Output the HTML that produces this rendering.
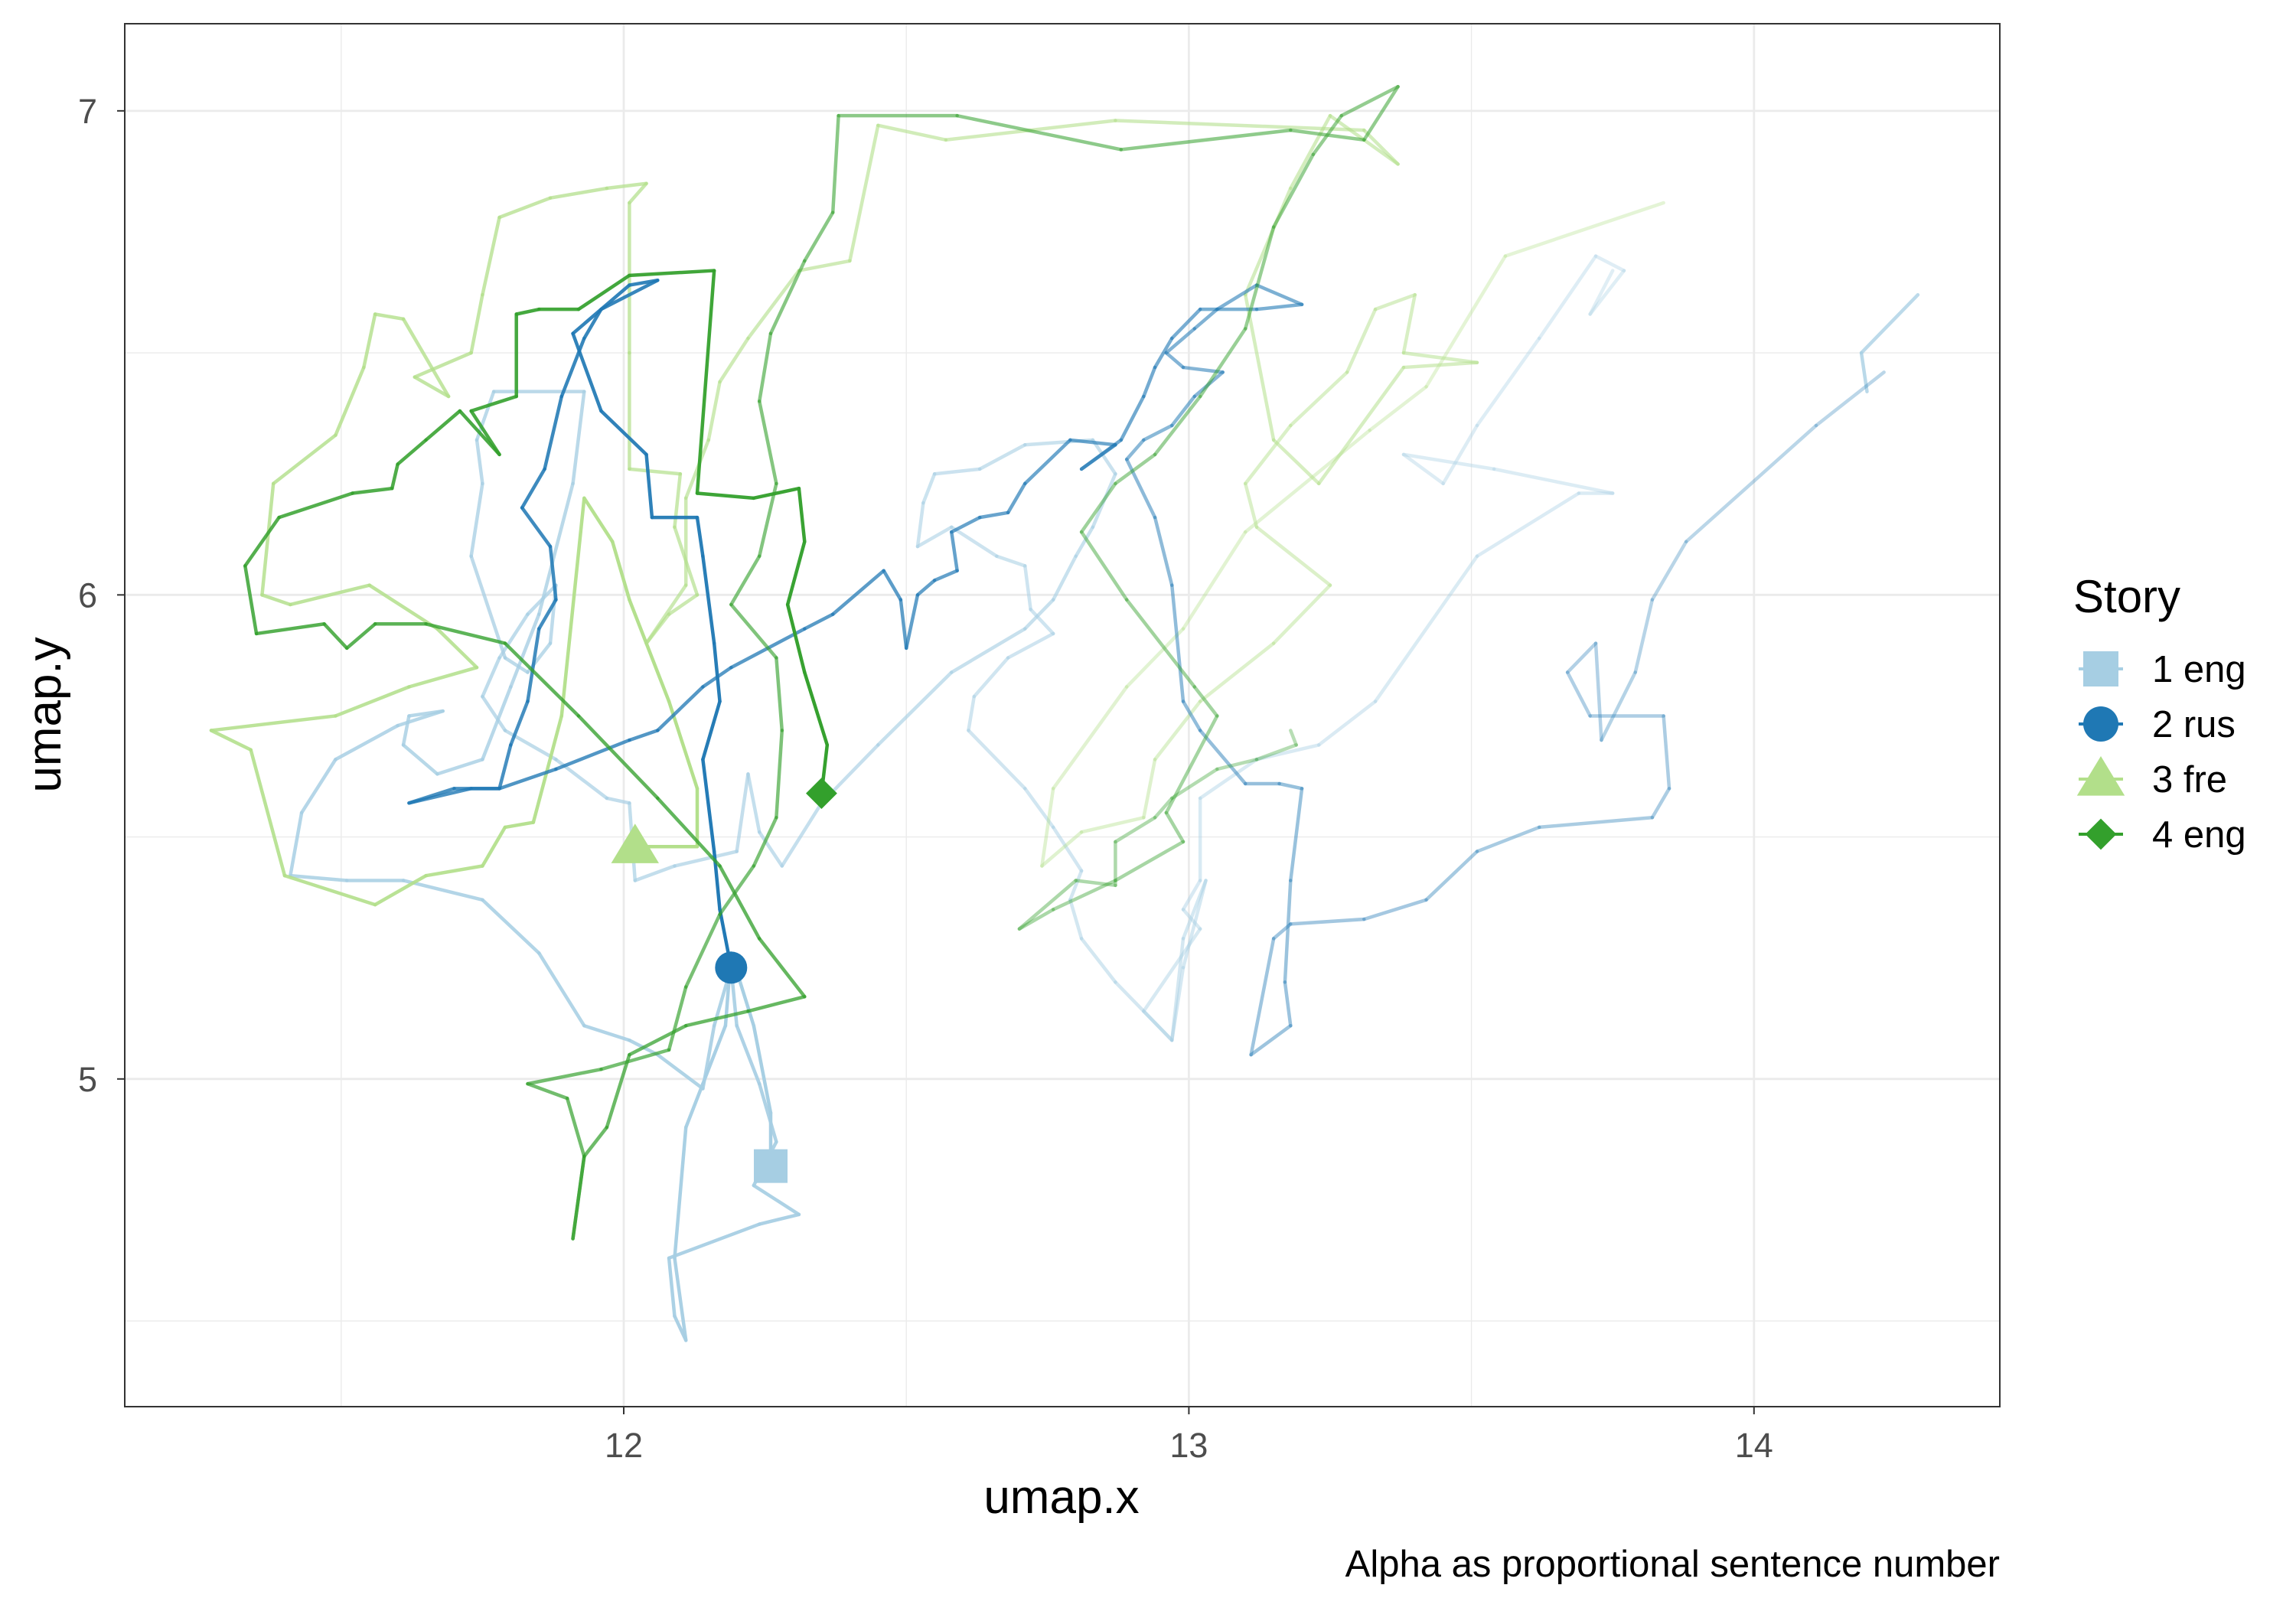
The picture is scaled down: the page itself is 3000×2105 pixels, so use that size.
<!DOCTYPE html>
<html><head><meta charset="utf-8"><style>
html,body{margin:0;padding:0;background:#fff;}
svg text{font-family:"Liberation Sans",Arial,sans-serif;}
</style></head><body>
<svg id="chart" width="3000" height="2100" viewBox="0 0 3000 2100" xmlns="http://www.w3.org/2000/svg">
<rect x="0" y="0" width="3000" height="2100" fill="#fff"/>
<g id="grid"></g>
<g id="series"></g>
<rect x="163" y="31" width="2450" height="1807" fill="none" stroke="#333" stroke-width="2"/>
<g id="axes"></g>
<text x="1387" y="1977" font-size="62" text-anchor="middle" fill="#000">umap.x</text>
<text transform="translate(79,934) rotate(-90)" font-size="62" text-anchor="middle" fill="#000">umap.y</text>
<text x="2613" y="2060" font-size="49" text-anchor="end" fill="#000">Alpha as proportional sentence number</text>
<g id="legend"></g>
</svg>
<script>
const storyNames = ["1 eng","2 rus","3 fre","4 eng"];
const storyColors = ["#a6cee3","#1f78b4","#b2df8a","#33a02c"];
const xTicks = [12,13,14];
const yTicks = [5,6,7];
const xMinor = [11.5,12.5,13.5];
const yMinor = [4.5,5.5,6.5];

const s1x = [13.75,13.71,13.77,13.72,13.62,13.51,13.45,13.38,13.54,13.75,13.69,13.51,13.33,13.23,13.12,13.02,13.02,12.99,13.02,12.92,12.97,12.99,13.03,12.99,12.97,12.87,12.81,12.79,12.81,12.76,12.71,12.61,12.62,12.68,12.76,12.72,12.71,12.66,12.58,12.52,12.53,12.55,12.63,12.71,12.83,12.87,12.83,12.80,12.76,12.71,12.58,12.45,12.35,12.28,12.24,12.22,12.20,12.09,12.02,12.01,11.97,11.88,11.79,11.75,11.78,11.83,11.88,11.87,11.83,11.79,11.73,11.75,11.74,11.77,11.93,11.91,11.85,11.80,11.75,11.67,11.61,11.62,11.68,11.60,11.49,11.43,11.41,11.51,11.61,11.75,11.85,11.93,12.01,12.06,12.14,12.16,12.19,12.20,12.24,12.27,12.23,12.31,12.24,12.08,12.09,12.11,12.09,12.11,12.14,12.18,12.19,12.23,12.26,12.26];
const s1y = [6.67,6.58,6.67,6.70,6.53,6.35,6.23,6.29,6.26,6.21,6.21,6.08,5.78,5.69,5.66,5.58,5.41,5.35,5.31,5.14,5.08,5.23,5.41,5.29,5.08,5.20,5.29,5.37,5.43,5.52,5.60,5.72,5.79,5.87,5.92,5.97,6.06,6.08,6.14,6.10,6.19,6.25,6.26,6.31,6.32,6.25,6.14,6.08,5.99,5.93,5.84,5.69,5.57,5.44,5.51,5.63,5.47,5.44,5.41,5.57,5.58,5.66,5.72,5.79,5.87,5.96,6.02,5.90,5.84,5.87,6.08,6.23,6.32,6.42,6.42,6.23,5.96,5.81,5.66,5.63,5.69,5.75,5.76,5.73,5.66,5.55,5.42,5.41,5.41,5.37,5.26,5.11,5.08,5.05,4.98,5.11,5.23,5.11,4.99,4.87,4.78,4.72,4.70,4.63,4.51,4.46,4.63,4.90,4.99,5.11,5.26,5.11,4.93,4.82];
const s1xb = [14.29,14.19,14.20];
const s1yb = [6.62,6.50,6.42];

const s2x = [14.23,14.11,13.88,13.82,13.79,13.73,13.72,13.67,13.71,13.84,13.85,13.82,13.62,13.51,13.42,13.31,13.18,13.15,13.11,13.18,13.17,13.18,13.20,13.16,13.10,13.02,12.99,12.97,12.94,12.89,12.92,12.97,13.01,13.06,12.99,12.96,13.01,13.05,13.12,13.20,13.12,13.02,12.97,12.94,12.92,12.88,12.81,12.87,12.79,12.71,12.68,12.63,12.58,12.59,12.55,12.52,12.50,12.49,12.46,12.37,12.32,12.19,12.14,12.06,12.01,11.88,11.78,11.73,11.62,11.70,11.78,11.80,11.83,11.85,11.88,11.87,11.82,11.86,11.89,11.93,11.96,12.06,12.01,11.91,11.96,12.04,12.05,12.13,12.14,12.16,12.17,12.14,12.16,12.17,12.19];
const s2y = [6.46,6.35,6.11,5.99,5.84,5.70,5.90,5.84,5.75,5.75,5.60,5.54,5.52,5.47,5.37,5.33,5.32,5.29,5.05,5.11,5.20,5.41,5.60,5.61,5.61,5.72,5.78,6.02,6.16,6.28,6.32,6.35,6.41,6.46,6.47,6.50,6.55,6.59,6.64,6.60,6.59,6.59,6.53,6.47,6.41,6.32,6.26,6.31,6.32,6.23,6.17,6.16,6.13,6.05,6.03,6.00,5.89,5.99,6.05,5.96,5.93,5.85,5.81,5.72,5.70,5.64,5.60,5.60,5.57,5.60,5.60,5.69,5.78,5.93,5.99,6.10,6.18,6.26,6.41,6.53,6.59,6.65,6.64,6.54,6.38,6.29,6.16,6.16,6.08,5.90,5.78,5.66,5.47,5.35,5.23];

const s3x = [13.84,13.56,13.42,13.32,13.10,12.99,12.89,12.76,12.74,12.81,12.92,12.94,13.02,13.15,13.25,13.12,13.10,13.18,13.28,13.33,13.40,13.38,13.51,13.38,13.23,13.15,13.10,13.18,13.25,13.37,13.31,12.87,12.57,12.45,12.40,12.31,12.22,12.17,12.15,12.11,12.11,12.04,12.08,12.13,12.09,12.10,12.01,12.01,12.01,12.04,11.97,11.87,11.78,11.75,11.73,11.63,11.69,11.61,11.56,11.54,11.49,11.38,11.36,11.41,11.55,11.67,11.74,11.62,11.49,11.27,11.34,11.40,11.56,11.65,11.75,11.79,11.84,11.89,11.93,11.98,12.01,12.08,12.13,12.13,12.02];
const s3y = [6.81,6.70,6.43,6.34,6.13,5.93,5.81,5.60,5.44,5.51,5.54,5.66,5.78,5.90,6.02,6.14,6.23,6.35,6.46,6.59,6.62,6.50,6.48,6.47,6.23,6.32,6.62,6.84,6.99,6.89,6.96,6.98,6.94,6.97,6.69,6.67,6.53,6.44,6.32,6.20,6.02,5.90,5.96,6.00,6.14,6.25,6.26,6.50,6.81,6.85,6.84,6.82,6.78,6.62,6.50,6.45,6.41,6.57,6.58,6.47,6.33,6.23,6.00,5.98,6.02,5.93,5.85,5.81,5.75,5.72,5.68,5.42,5.36,5.42,5.44,5.52,5.53,5.75,6.20,6.11,5.99,5.78,5.60,5.48,5.48];

const s4x = [13.18,13.19,13.12,13.05,12.97,12.94,12.87,12.87,12.80,12.70,12.76,12.87,12.99,12.96,13.05,13.01,12.89,12.81,12.87,12.94,13.02,13.10,13.15,13.22,13.27,13.37,13.31,13.18,12.88,12.59,12.38,12.37,12.32,12.26,12.24,12.27,12.24,12.19,12.27,12.28,12.27,12.23,12.17,12.11,12.08,11.96,11.83,11.90,11.93,11.91,11.93,11.97,12.01,12.11,12.22,12.32,12.24,12.17,12.06,11.92,11.79,11.65,11.56,11.51,11.47,11.35,11.33,11.39,11.52,11.59,11.60,11.65,11.71,11.78,11.73,11.81,11.81,11.85,11.92,12.01,12.16,12.13,12.23,12.31,12.32,12.29,12.32,12.36,12.35];
const s4y = [5.72,5.69,5.66,5.64,5.58,5.54,5.49,5.40,5.41,5.31,5.35,5.41,5.49,5.55,5.75,5.81,5.99,6.13,6.23,6.29,6.41,6.55,6.76,6.91,6.99,7.05,6.94,6.96,6.92,6.99,6.99,6.79,6.69,6.54,6.40,6.23,6.08,5.98,5.87,5.72,5.54,5.44,5.34,5.19,5.06,5.02,4.99,4.96,4.84,4.67,4.84,4.90,5.05,5.11,5.14,5.17,5.29,5.44,5.58,5.75,5.90,5.94,5.94,5.89,5.94,5.92,6.06,6.16,6.21,6.22,6.27,6.32,6.38,6.29,6.38,6.41,6.58,6.59,6.59,6.66,6.67,6.21,6.20,6.22,6.11,5.98,5.84,5.69,5.59];

const X0=163, X1=2613, Y0=31, Y1=1838;
const xMin=11.117, xMax=14.435, yMin=4.323, yMax=7.18;
function sx(v){return X0+(v-xMin)/(xMax-xMin)*(X1-X0);}
function sy(v){return Y1-(v-yMin)/(yMax-yMin)*(Y1-Y0);}
const NS="http://www.w3.org/2000/svg";
function mk(tag,attrs,parent){const e=document.createElementNS(NS,tag);for(const k in attrs)e.setAttribute(k,attrs[k]);parent.appendChild(e);return e;}

const grid=document.getElementById('grid');
xMinor.forEach(v=>{const l=mk('line',{x1:sx(v),x2:sx(v),y1:Y0,y2:Y1,stroke:'#ebebeb','stroke-width':1.4},grid);

});
yMinor.forEach(v=>{const l=mk('line',{x1:X0,x2:X1,y1:sy(v),y2:sy(v),stroke:'#ebebeb','stroke-width':1.4},grid);

});
xTicks.forEach(v=>{const l=mk('line',{x1:sx(v),x2:sx(v),y1:Y0,y2:Y1,stroke:'#ebebeb','stroke-width':2.8},grid);

});
yTicks.forEach(v=>{const l=mk('line',{x1:X0,x2:X1,y1:sy(v),y2:sy(v),stroke:'#ebebeb','stroke-width':2.8},grid);

});

const axes=document.getElementById('axes');
xTicks.forEach(v=>{
  const t=mk('line',{x1:sx(v),x2:sx(v),y1:Y1,y2:Y1+10,stroke:'#333','stroke-width':2},axes);
  
  
  const tx=mk('text',{x:sx(v),y:Y1+66,'font-size':45,'text-anchor':'middle',fill:'#4d4d4d'},axes);
  tx.textContent=v;
  
  
});
yTicks.forEach(v=>{
  const t=mk('line',{x1:X0-10,x2:X0,y1:sy(v),y2:sy(v),stroke:'#333','stroke-width':2},axes);
  
  
  const tx=mk('text',{x:X0-36,y:sy(v)+16,'font-size':45,'text-anchor':'end',fill:'#4d4d4d'},axes);
  tx.textContent=v;
  
  
});

const series=document.getElementById('series');
function drawPath(xs,ys,color,name,a0,a1){
  const g=mk('g',{},series);
  
  
  const n=xs.length-1;
  for(let i=0;i<n;i++){
    const a=a0+(a1-a0)*(i/n);
    mk('line',{x1:sx(xs[i]),y1:sy(ys[i]),x2:sx(xs[i+1]),y2:sy(ys[i+1]),stroke:color,'stroke-width':4.5,'stroke-opacity':a,'stroke-linecap':'round'},g);
  }
}
drawPath(s1xb,s1yb,storyColors[0],'story-1-eng-path-segment',0.75,0.8);
drawPath(s1x,s1y,storyColors[0],'story-1-eng-path',0.35,1);
drawPath(s3x,s3y,storyColors[2],'story-3-fre-path',0.35,1);
drawPath(s2x,s2y,storyColors[1],'story-2-rus-path',0.3,1);
drawPath(s4x,s4y,storyColors[3],'story-4-eng-path',0.35,1);

function marker(kind,cx,cy,color,r,parent){
  let e;
  if(kind===0) e=mk('rect',{x:cx-r,y:cy-r,width:2*r,height:2*r,fill:color},parent);
  else if(kind===1) e=mk('circle',{cx:cx,cy:cy,r:r,fill:color},parent);
  else if(kind===2) e=mk('polygon',{points:`${cx},${cy-r*1.25} ${cx-r*1.3},${cy+r*0.9} ${cx+r*1.3},${cy+r*0.9}`,fill:color},parent);
  else e=mk('polygon',{points:`${cx},${cy-r*1.2} ${cx+r*1.2},${cy} ${cx},${cy+r*1.2} ${cx-r*1.2},${cy}`,fill:color},parent);
  return e;
}
const ends=[[s1x,s1y],[s2x,s2y],[s3x,s3y],[s4x,s4y]];
const sizes=[22,21,24,17];
ends.forEach((p,i)=>{
  const n=p[0].length-1;
  const m=marker(i,sx(p[0][n]),sy(p[1][n]),storyColors[i],sizes[i],series);
  
  
});

const legend=document.getElementById('legend');
const lt=mk('text',{x:2709,y:800,'font-size':60,fill:'#000'},legend);
lt.textContent='Story';


const ly=[874,946,1018,1090];
storyNames.forEach((nm,i)=>{
  const g=mk('g',{},legend);
  
  
  mk('line',{x1:2716,x2:2774,y1:ly[i],y2:ly[i],stroke:storyColors[i],'stroke-width':4},g);
  marker(i,2745,ly[i],storyColors[i],[23,23,24,17][i],g);
  const t=mk('text',{x:2812,y:ly[i]+17,'font-size':49,fill:'#000'},g);
  t.textContent=nm;
});
</script>
</body></html>
